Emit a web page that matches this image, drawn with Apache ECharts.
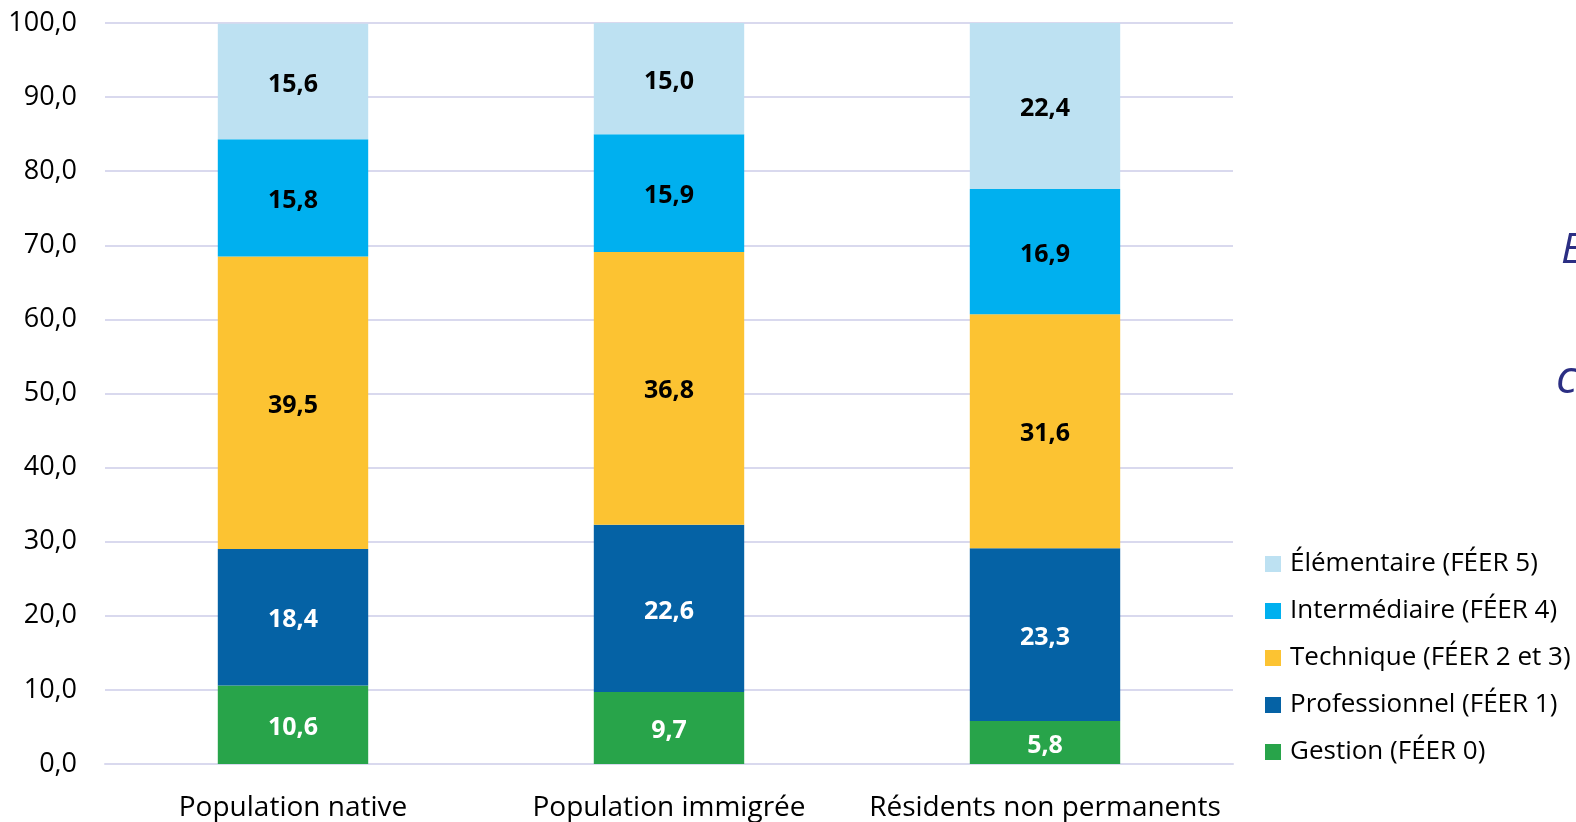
<!DOCTYPE html>
<html>
<head>
<meta charset="utf-8">
<script src="https://cdn.jsdelivr.net/npm/echarts@6/dist/echarts.min.js"></script>
<style>
  html, body { margin: 0; padding: 0; background: #fff; }
  #chart { width: 1576px; height: 822px; }
</style>
</head>
<body>
<div id="chart"></div>
<script>
const categories = ['Population native', 'Population immigrée', 'Résidents non permanents'];
const gestion = [10.6, 9.7, 5.8];
const professionnel = [18.4, 22.6, 23.3];
const technique = [39.5, 36.8, 31.6];
const intermediaire = [15.8, 15.9, 16.9];
const elementaire = [15.6, 15.0, 22.4];
const legendOrder = ['Élémentaire (FÉER 5)', 'Intermédiaire (FÉER 4)', 'Technique (FÉER 2 et 3)', 'Professionnel (FÉER 1)', 'Gestion (FÉER 0)'];

const FONT = '"Open Sans", sans-serif';
const fmt = v => v.toFixed(1).replace('.', ',');

function bar(name, data, color, labelColor) {
  return {
    name: name,
    type: 'bar',
    stack: 'total',
    barWidth: '40%',
    data: data,
    itemStyle: { color: color },
    label: {
      show: true,
      position: 'inside',
      offset: [0, 3],
      color: labelColor,
      fontFamily: FONT,
      fontWeight: 'bold',
      fontSize: 25,
      formatter: p => fmt(p.value)
    }
  };
}

const chart = echarts.init(document.getElementById('chart'));
chart.setOption({
  animation: false,
  grid: { left: 105, right: 343, top: 23, bottom: 57 },
  legend: {
    orient: 'vertical',
    left: 1260,
    top: 546,
    data: legendOrder,
    icon: 'rect',
    itemWidth: 16,
    itemHeight: 16,
    itemGap: 21,
    textStyle: { fontFamily: FONT, fontSize: 26, color: '#000', padding: [0, 0, 0, 4] }
  },
  xAxis: {
    type: 'category',
    data: categories,
    axisTick: { show: false },
    axisLine: { lineStyle: { color: '#D9D9EE', width: 2 } },
    axisLabel: { interval: 0, fontFamily: FONT, fontSize: 28, color: '#000', margin: 30 }
  },
  yAxis: {
    type: 'value',
    min: 0,
    max: 100,
    interval: 10,
    axisLine: { show: false },
    axisTick: { show: false },
    splitLine: { lineStyle: { color: '#D9D9EE', width: 2 } },
    axisLabel: { fontFamily: FONT, fontSize: 27, color: '#000', margin: 28, formatter: v => fmt(v) }
  },
  graphic: [
    { type: 'text', left: 1561, top: 230, style: { text: 'E', fontFamily: FONT, fontStyle: 'italic', fontSize: 42, fill: '#2B2E83' } },
    { type: 'text', left: 1556, top: 357, style: { text: 'c', fontFamily: FONT, fontStyle: 'italic', fontSize: 46, fill: '#2B2E83' } }
  ],
  series: [
    bar('Gestion (FÉER 0)', gestion, '#28A44A', '#fff'),
    bar('Professionnel (FÉER 1)', professionnel, '#0562A5', '#fff'),
    bar('Technique (FÉER 2 et 3)', technique, '#FCC332', '#000'),
    bar('Intermédiaire (FÉER 4)', intermediaire, '#00B0EF', '#000'),
    bar('Élémentaire (FÉER 5)', elementaire, '#BDE1F2', '#000')
  ]
});
</script>
</body>
</html>
